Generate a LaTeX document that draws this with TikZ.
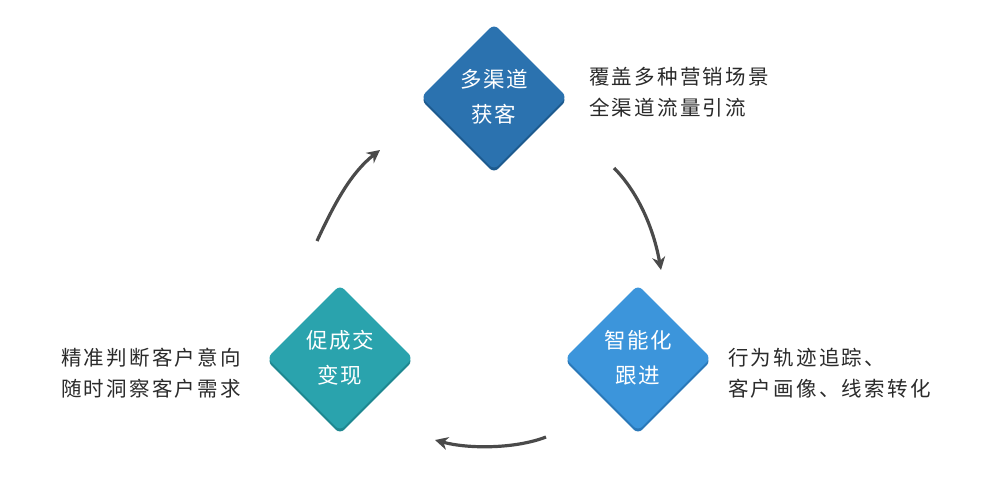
\documentclass[tikz,border=0pt]{standalone}
\usepackage{fontspec}
\newfontfamily\cjk[LetterSpace=8]{Noto Sans CJK SC}
\newfontfamily\cjkside[LetterSpace=11]{Noto Sans CJK SC}
\usetikzlibrary{shapes.geometric,arrows.meta}
\definecolor{cTop}{HTML}{2B72AF}
\definecolor{cTopD}{HTML}{1D5A8E}
\definecolor{cRight}{HTML}{3C95DB}
\definecolor{cRightD}{HTML}{2A78B8}
\definecolor{cLeft}{HTML}{2AA3AD}
\definecolor{cLeftD}{HTML}{1E8790}
\definecolor{arr}{HTML}{4A4A4A}
\definecolor{txt}{HTML}{2A2A2A}
\tikzset{
  dia/.style={diamond,aspect=1,minimum width=146pt,minimum height=146pt,inner sep=0pt,rounded corners=6pt,text=white,align=center,font=\cjk\fontsize{21.5}{35}\selectfont},
  sidetxt/.style={anchor=west,align=left,text=txt,font=\cjkside\fontsize{20.5}{31}\selectfont,inner sep=0pt},
  flow/.style={draw=arr,line width=3.2pt,-{Stealth[length=13pt,width=13pt]}}
}
\begin{document}
\begin{tikzpicture}[x=1pt,y=-1pt]
\useasboundingbox (0,0) rectangle (1000,496);
% shadows
\node[dia,fill=cTopD] (topS) at (494,100) {};
\node[dia,fill=cRightD] (rightS) at (638,361) {};
\node[dia,fill=cLeftD] (leftS) at (340,361) {};
% diamonds
\node[dia,fill=cTop] (top) at (494,97) {多渠道\\获客};
\node[dia,fill=cRight] (right) at (638,358) {智能化\\跟进};
\node[dia,fill=cLeft] (left) at (340,358) {促成交\\变现};
% side texts
\node[sidetxt] (ttop) at (589,92) {覆盖多种营销场景\\全渠道流量引流};
\node[sidetxt] (tright) at (728,373) {行为轨迹追踪、\\客户画像、线索转化};
\node[sidetxt] (tleft) at (61,373) {精准判断客户意向\\随时洞察客户需求};
% arrow endpoints
\coordinate (a1s) at (317,241);
\coordinate (a1e) at (380,150);
\coordinate (a2s) at (614,168);
\coordinate (a2e) at (661,270);
\coordinate (a3s) at (546,437);
\coordinate (a3e) at (435,440);
\draw[flow] (a1s) .. controls (336,200) and (352,172) .. (a1e);
\draw[flow] (a2s) .. controls (636,190) and (653,225) .. (a2e);
\draw[flow] (a3s) .. controls (515,449) and (468,449) .. (a3e);
\end{tikzpicture}
\end{document}
